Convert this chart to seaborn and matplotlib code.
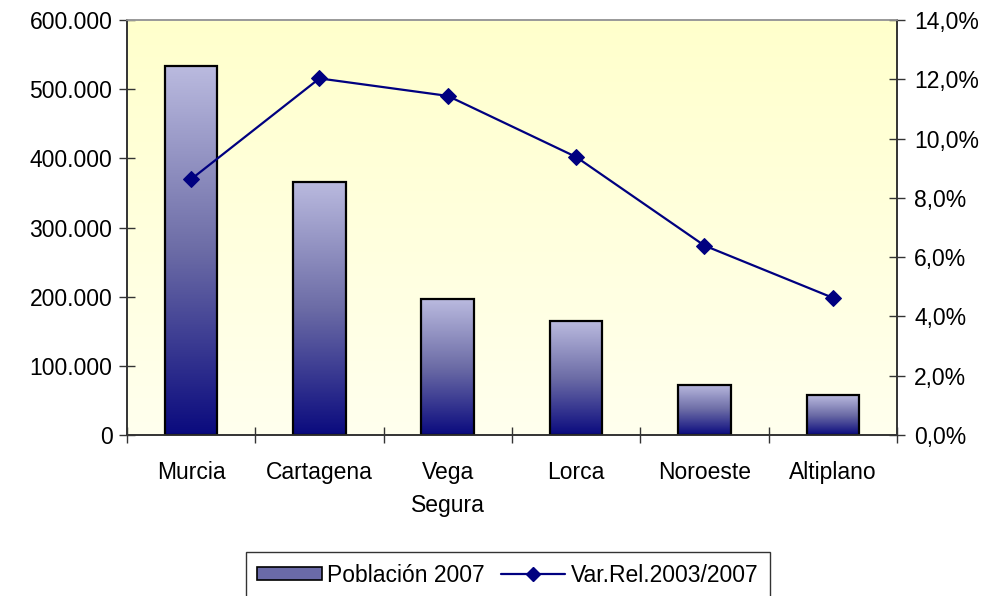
import numpy as np
import pandas as pd
import matplotlib
matplotlib.use("Agg")
import matplotlib.pyplot as plt
import seaborn as sns
from matplotlib.colors import LinearSegmentedColormap
from matplotlib.patches import Patch
from matplotlib.lines import Line2D
from matplotlib.ticker import FuncFormatter, FixedLocator


comarcas = ["Murcia", "Cartagena", "Vega\nSegura", "Lorca", "Noroeste", "Altiplano"]
poblacion_2007 = [533500, 366200, 196600, 164800, 72300, 57800]
var_rel_2003_2007 = [8.63, 12.03, 11.44, 9.38, 6.39, 4.63]

LABEL_POB = "Población 2007"
LABEL_VAR = "Var.Rel.2003/2007"

FS = 16.5


def miles(v, pos):
    return f"{int(round(v)):,}".replace(",", ".")


def pct(v, pos):
    return f"{v:.1f}%".replace(".", ",")


def main():
    df = pd.DataFrame({
        "comarca": comarcas,
        "poblacion": poblacion_2007,
        "var": var_rel_2003_2007,
    })

    sns.set_theme(style="white")
    plt.rcParams["font.family"] = ["Liberation Sans", "DejaVu Sans"]
    plt.rcParams["font.size"] = FS
    plt.rcParams["text.color"] = "black"
    plt.rcParams["xtick.color"] = "black"
    plt.rcParams["ytick.color"] = "black"

    fig = plt.figure(figsize=(9.95, 5.96), dpi=100)
    ax = fig.add_axes([0.1276, 0.2701, 0.7739, 0.6963])

    # background gradient (pale yellow at top, almost white at bottom)
    bg_cmap = LinearSegmentedColormap.from_list("bg", ["#FFFFEE", "#FFFFCC"])
    grad = np.linspace(0, 1, 256).reshape(-1, 1)
    ax.imshow(grad, extent=[0, 1, 0, 1], transform=ax.transAxes, origin="lower",
              aspect="auto", cmap=bg_cmap, zorder=0)

    sns.barplot(data=df, x="comarca", y="poblacion", ax=ax, width=0.41,
                color="#6A6AA8", edgecolor="black", linewidth=1.6, zorder=2)

    # gradient fill for the bars
    bar_cmap = LinearSegmentedColormap.from_list("bar", ["#0A0A7E", "#6C6CA6", "#BABADF"])
    for p in ax.patches:
        x0, y0 = p.get_x(), p.get_y()
        w, h = p.get_width(), p.get_height()
        im = ax.imshow(grad, extent=[x0, x0 + w, y0, y0 + h], origin="lower",
                       aspect="auto", cmap=bar_cmap, zorder=2)
        im.set_clip_path(p)
        p.set_facecolor("none")
        p.set_zorder(3)

    ax.set_xlim(-0.5, len(comarcas) - 0.5)
    ax.set_ylim(0, 600000)
    ax.set_yticks(np.arange(0, 600001, 100000))
    ax.yaxis.set_major_formatter(FuncFormatter(miles))
    ax.set_xlabel("")
    ax.set_ylabel("")

    # x ticks: labels at centres, marks at the boundaries
    ax.tick_params(axis="x", which="major", length=0, pad=19, labelsize=FS)
    for lbl in ax.get_xticklabels():
        lbl.set_linespacing(1.55)
    ax.xaxis.set_minor_locator(FixedLocator(np.arange(-0.5, len(comarcas), 1.0)))
    ax.tick_params(axis="x", which="minor", direction="inout", length=11,
                   width=1, color="#333333", bottom=True)
    ax.tick_params(axis="y", direction="inout", length=11, width=1,
                   color="#333333", left=True, labelsize=FS, pad=5)

    ax2 = ax.twinx()
    sns.lineplot(data=df, x="comarca", y="var", ax=ax2, color="#000080",
                 marker="D", markersize=8, linewidth=1.6, markeredgecolor="#000080")
    ax2.set_ylim(0, 14)
    ax2.set_yticks(np.arange(0, 14.1, 2))
    ax2.yaxis.set_major_formatter(FuncFormatter(pct))
    ax2.set_ylabel("")
    ax2.tick_params(axis="y", direction="inout", length=11, width=1,
                    color="#333333", right=True, labelsize=FS, pad=7)
    ax2.set_xlim(-0.5, len(comarcas) - 0.5)

    for a in (ax, ax2):
        for side in ("left", "right", "bottom"):
            a.spines[side].set_color("#333333")
            a.spines[side].set_linewidth(1.2)
        a.spines["top"].set_color("#999999")
        a.spines["top"].set_linewidth(1.2)

    handles = [
        Patch(facecolor="#6A6AA8", edgecolor="black", linewidth=1.2),
        Line2D([0], [0], color="#000080", marker="D", markersize=7, linewidth=1.6),
    ]
    leg = fig.legend(handles, [LABEL_POB, LABEL_VAR], loc="center",
                     bbox_to_anchor=(0.5105, 0.035), ncol=2, frameon=True,
                     fancybox=False, edgecolor="black", fontsize=FS,
                     handlelength=2.8, handleheight=0.5, handletextpad=0.25,
                     columnspacing=0.7, borderpad=0.5)
    leg.get_frame().set_linewidth(1.0)

    fig.savefig("out.png", dpi=100)
    plt.close(fig)


if __name__ == "__main__":
    main()
